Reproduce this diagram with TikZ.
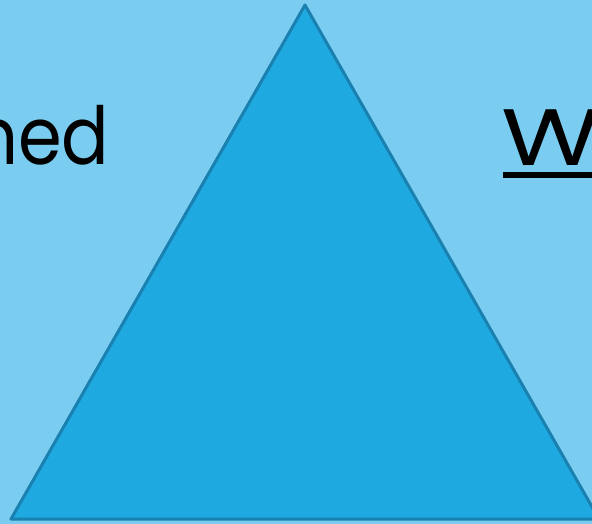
\documentclass[tikz,border=0pt]{standalone}
\usepackage{fontspec}
\setmainfont{Poppins}
\definecolor{bgblue}{HTML}{7ACDF0}
\definecolor{trifill}{HTML}{1FA9E1}
\definecolor{triedge}{HTML}{1A80B0}
\begin{document}
\begin{tikzpicture}[x=1pt,y=-1pt,
  lbl/.style={inner sep=0pt,outer sep=0pt,font=\fontsize{80}{90}\selectfont,text=black}]
\clip (0,0) rectangle (592,524);
\useasboundingbox (0,0) rectangle (592,524);
\fill[bgblue] (0,0) rectangle (592,524);
\coordinate (apex) at (305,5);
\coordinate (bl) at (11,519);
\coordinate (br) at (599,519);
\draw[fill=trifill,draw=triedge,line width=3pt,line join=round] (apex) -- (bl) -- (br) -- cycle;
\node[lbl,anchor=base east] (left) at (109.5,165) {\scalebox{0.88}[1]{ned}};
\node[lbl,anchor=base west] (right) at (501,166) {\scalebox{1.27}[1]{W}};
\fill[black] (503,172) rectangle (600,178);
\end{tikzpicture}
\end{document}
